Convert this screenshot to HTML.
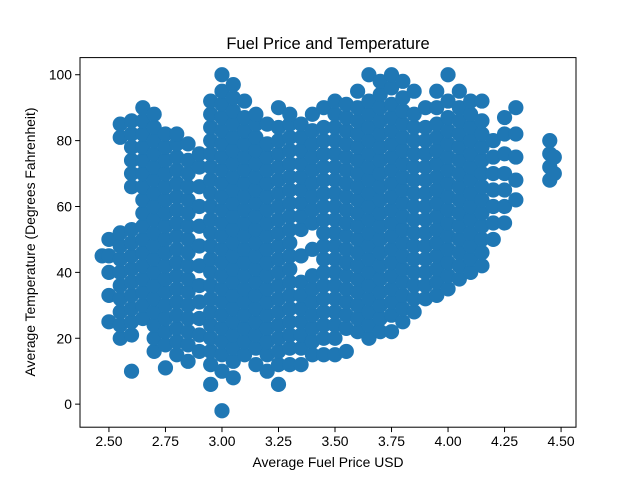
<!DOCTYPE html>
<html><head><meta charset="utf-8"><style>
body{margin:0;background:#fff;}
svg text{font-family:"Liberation Sans","DejaVu Sans",sans-serif;}
</style></head><body>
<svg id="chart" width="640" height="480" xmlns="http://www.w3.org/2000/svg">
<rect width="640" height="480" fill="#fff"/>
<text x="328" y="49" text-anchor="middle" font-size="16.5">Fuel Price and Temperature</text>
<g id="points"></g>
<rect x="80" y="57.6" width="496" height="369.6" fill="none" stroke="#000" stroke-width="1"/>
<g id="xticks"></g>
<g id="yticks"></g>
<text x="328" y="467" text-anchor="middle" font-size="13.9">Average Fuel Price USD</text>
<text transform="translate(35,242) rotate(-90)" text-anchor="middle" font-size="13.9">Average Temperature (Degrees Fahrenheit)</text>
</svg>
<script>
const prices=[2.47,2.50,2.55,2.60,2.65,2.70,2.75,2.80,2.85,2.90,2.95,3.00,3.05,3.10,3.15,3.20,3.25,3.30,3.35,3.40,3.45,3.50,3.55,3.60,3.65,3.70,3.75,3.80,3.85,3.90,3.95,4.00,4.05,4.10,4.15,4.20,4.25,4.30,4.45,4.47];
const temps=[
[45],
[25,33,40,45,50],
[20,24,28,32,36,40,44,48,52,81,85],
[10,21,25,29,33,37,41,45,49,53,66,70,74,78,82,86],
[26,30,34,38,42,46,50,54,58,62,66,70,74,78,82,86,90],
[16,20,24,28,32,36,40,44,48,52,56,60,64,68,72,76,80,84,88],
[11,18,22,26,30,34,38,42,46,50,54,58,62,66,70,74,78,82],
[15,19,23,27,31,35,39,43,47,51,55,59,63,67,71,75,79,82],
[13,18,22,26,30,34,38,42,46,50,54,58,62,66,70,74,79],
[16,21,26,31,36,42,48,54,60,66,72,76],
[6,12,16,20,24,28,32,36,40,44,48,52,56,60,64,68,72,76,80,84,88,92],
[-2,10,15,19,23,27,31,35,39,43,47,51,55,59,63,67,71,75,79,83,87,91,95,100],
[8,13,17,21,25,29,33,37,41,45,49,53,57,61,65,69,73,77,81,85,89,93,97],
[15,19,23,27,31,35,39,43,47,51,55,59,63,67,71,75,79,83,87,92],
[12,17,21,25,29,33,37,41,45,49,53,57,61,65,69,73,77,81,85,88],
[10,15,19,23,27,31,35,39,43,47,51,55,59,63,67,71,75,79,85],
[6,12,16,20,24,28,32,36,40,44,48,52,56,60,64,68,72,76,80,84,90],
[12,17,21,25,29,33,37,41,45,49,53,57,61,65,69,73,77,81,85,88],
[12,17,21,25,29,33,37,45,53,57,61,65,69,73,77,81,85],
[15,19,23,27,31,35,39,47,55,59,63,67,71,75,79,83,88],
[15,20,24,28,32,36,40,44,48,52,56,60,64,68,72,76,80,84,90],
[15,20,24,28,32,36,40,44,48,52,56,60,64,68,72,76,80,84,88,92],
[16,23,27,31,35,39,43,47,51,55,59,63,67,71,75,79,83,87,91],
[22,26,30,34,38,42,46,50,54,58,62,66,70,74,78,82,86,90,95],
[20,24,28,32,36,40,44,48,52,56,60,64,68,72,76,80,84,88,92,100],
[22,26,30,34,38,42,46,50,54,58,62,66,70,74,78,82,86,90,94,98],
[22,27,31,35,39,43,47,51,55,59,63,67,71,75,79,83,87,91,96,100],
[25,29,33,37,41,45,49,53,57,61,65,69,73,77,81,85,89,93,98],
[28,32,36,40,44,48,52,56,60,64,68,72,76,80,84,88,95],
[32,36,40,44,48,52,56,60,64,68,72,76,80,84,90],
[33,37,41,45,49,53,57,61,65,69,73,77,81,85,90,95],
[35,39,43,47,51,55,59,63,67,71,75,79,83,87,92,100],
[38,42,46,50,54,58,62,66,70,74,78,82,86,90,95],
[40,44,48,52,56,60,64,68,72,76,80,84,88,92],
[42,46,50,54,58,62,66,70,74,78,82,86,92],
[50,55,60,65,70,75,80],
[55,60,65,70,76,82,87],
[62,68,75,82,90],
[68,72,76,80],
[70,75]
];
const xTickLabels=["2.50","2.75","3.00","3.25","3.50","3.75","4.00","4.25","4.50"];
const yTickLabels=["0","20","40","60","80","100"];

const X0=80,X1=576,Y0=427.2,Y1=57.6;
const xmin=2.372,xmax=4.566,ymin=-7.0,ymax=105.2;
const sx=v=>X0+(v-xmin)/(xmax-xmin)*(X1-X0);
const sy=v=>Y0-(v-ymin)/(ymax-ymin)*(Y0-Y1);
const NS="http://www.w3.org/2000/svg";
const pg=document.getElementById('points');
prices.forEach((p,i)=>{
  temps[i].forEach(t=>{
    const c=document.createElementNS(NS,'circle');
    
    
    c.setAttribute('cx',sx(p));c.setAttribute('cy',sy(t));
    c.setAttribute('r',7.6);c.setAttribute('fill','#1f77b4');
    pg.appendChild(c);
  });
});
const xg=document.getElementById('xticks');
xTickLabels.forEach(l=>{
  const x=sx(parseFloat(l));
  const ln=document.createElementNS(NS,'line');
  
  
  ln.setAttribute('x1',x);ln.setAttribute('x2',x);ln.setAttribute('y1',Y0);ln.setAttribute('y2',Y0+4.9);ln.setAttribute('stroke','#000');
  xg.appendChild(ln);
  const t=document.createElementNS(NS,'text');
  
  
  t.setAttribute('x',x);t.setAttribute('y',Y0+19);t.setAttribute('text-anchor','middle');t.setAttribute('font-size','13.9');
  t.textContent=l;xg.appendChild(t);
});
const yg=document.getElementById('yticks');
yTickLabels.forEach(l=>{
  const y=sy(parseFloat(l));
  const ln=document.createElementNS(NS,'line');
  
  
  ln.setAttribute('x1',X0-4.9);ln.setAttribute('x2',X0);ln.setAttribute('y1',y);ln.setAttribute('y2',y);ln.setAttribute('stroke','#000');
  yg.appendChild(ln);
  const t=document.createElementNS(NS,'text');
  
  
  t.setAttribute('x',X0-8);t.setAttribute('y',y+5);t.setAttribute('text-anchor','end');t.setAttribute('font-size','13.9');
  t.textContent=l;yg.appendChild(t);
});
</script>
</body></html>
